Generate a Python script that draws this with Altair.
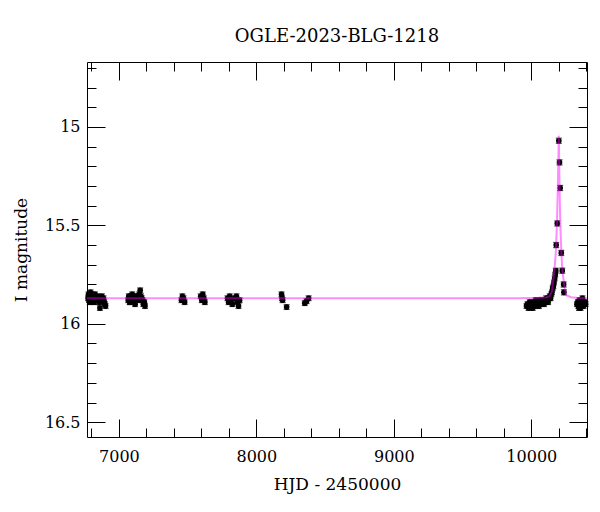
import altair as alt
import pandas as pd

# ---------------- data ----------------
t1 = [6776, 6779, 6782, 6785, 6788, 6791, 6794, 6797, 6800, 6803, 6806, 6810, 6815,
      6820, 6826, 6832, 6838, 6845, 6852, 6858, 6862, 6868, 6876, 6882, 6888, 6893,
      6898, 6903]
m1 = [15.87, 15.85, 15.88, 15.86, 15.89, 15.87, 15.84, 15.88, 15.86, 15.85, 15.88,
      15.86, 15.87, 15.89, 15.85, 15.88, 15.87, 15.86, 15.88, 15.89, 15.92, 15.87,
      15.86, 15.88, 15.87, 15.89, 15.90, 15.91]

t2 = [7068, 7072, 7075, 7079, 7082, 7086, 7090, 7097, 7105, 7112, 7118, 7125, 7132,
      7140, 7148, 7155, 7160, 7166, 7172, 7178, 7185, 7190]
m2 = [15.88, 15.86, 15.87, 15.89, 15.89, 15.86, 15.87, 15.85, 15.88, 15.86, 15.90,
      15.87, 15.86, 15.88, 15.85, 15.83, 15.86, 15.87, 15.88, 15.90, 15.89, 15.91]

t3 = [7455, 7462, 7470, 7478]
m3 = [15.88, 15.86, 15.87, 15.89]

t4 = [7595, 7603, 7610, 7618, 7625]
m4 = [15.86, 15.88, 15.85, 15.87, 15.89]

t5 = [7790, 7798, 7806, 7815, 7825, 7840, 7855, 7862, 7870, 7878]
m5 = [15.87, 15.89, 15.86, 15.88, 15.90, 15.87, 15.86, 15.89, 15.91, 15.88]

t6 = [8183, 8187, 8191, 8220]
m6 = [15.85, 15.87, 15.88, 15.915]

t7 = [8352, 8365, 8380]
m7 = [15.895, 15.885, 15.87]

t8 = [9965, 9972, 9980, 9988, 9995, 10002, 10010, 10018, 10025, 10032, 10040, 10048,
      10055, 10062, 10070, 10078, 10085, 10092, 10100, 10108, 10115, 10122, 10128, 10134,
      10140, 10145, 10150, 10155, 10160, 10165, 10170, 10174, 10178]
m8 = [15.91, 15.90, 15.92, 15.89, 15.91, 15.90, 15.92, 15.89, 15.91, 15.88, 15.90, 15.89,
      15.91, 15.88, 15.90, 15.89, 15.88, 15.90, 15.89, 15.87, 15.88, 15.89, 15.87, 15.86,
      15.87, 15.85, 15.84, 15.82, 15.81, 15.79, 15.77, 15.75, 15.73]

t9 = [10181, 10189, 10200, 10205, 10210, 10218, 10225, 10235, 10237]
m9 = [15.60, 15.49, 15.07, 15.18, 15.31, 15.64, 15.73, 15.80, 15.84]

t10 = [10332, 10338, 10342, 10347, 10350, 10355, 10358, 10365, 10372, 10380, 10388, 10395]
m10 = [15.90, 15.89, 15.91, 15.92, 15.88, 15.90, 15.92, 15.90, 15.87, 15.91, 15.89, 15.90]

base_err = 0.012
peak_err = [0.013, 0.013, 0.013, 0.013, 0.013, 0.013, 0.013, 0.013, 0.013]

model_t = [6768, 9900, 10050, 10110, 10133, 10150, 10169, 10178, 10186, 10193, 10200,
           10205, 10211, 10218, 10225, 10240, 10254, 10290, 10340, 10405]
model_m = [15.870, 15.870, 15.868, 15.865, 15.860, 15.835, 15.72, 15.64, 15.50, 15.30,
           15.045, 15.30, 15.50, 15.63, 15.72, 15.81, 15.855, 15.865, 15.869, 15.870]

x_major = [7000, 8000, 9000, 10000]
x_minor = [6800 + 200 * i for i in range(19)]
y_major = [15, 15.5, 16, 16.5]
y_minor = [round(14.7 + 0.1 * i, 1) for i in range(19)]

x_domain = [6768, 10405]
y_domain = [14.67, 16.575]

title_text = "OGLE-2023-BLG-1218"
x_title = "HJD - 2450000"
y_title = "I magnitude"

# ---------------- tables ----------------
hjd = t1 + t2 + t3 + t4 + t5 + t6 + t7 + t8 + t9 + t10
mag = m1 + m2 + m3 + m4 + m5 + m6 + m7 + m8 + m9 + m10
err = [base_err] * (len(hjd) - len(t10) - len(t9)) + peak_err + [base_err] * len(t10)
pts = pd.DataFrame({"hjd": hjd, "mag": mag, "err": err})
pts["lo"] = pts["mag"] - pts["err"]
pts["hi"] = pts["mag"] + pts["err"]
caps = pd.concat([
    pd.DataFrame({"hjd": pts["hjd"], "m": pts["lo"]}),
    pd.DataFrame({"hjd": pts["hjd"], "m": pts["hi"]}),
])
model = pd.DataFrame({"hjd": model_t, "mag": model_m})

FONT = "DejaVu Serif"
xs = alt.Scale(domain=x_domain, nice=False, zero=False)
ys = alt.Scale(domain=y_domain, reverse=True, nice=False, zero=False)


def tick_axis(orient, values, size):
    return alt.Axis(orient=orient, values=values, tickSize=size, offset=-size,
                    labels=False, domain=False, grid=False, title=None,
                    tickColor="black", tickWidth=1)


x_lab = alt.Axis(orient="bottom", values=x_major, ticks=False, domain=False, grid=False,
                 format="d", labelFont=FONT, labelFontSize=16, labelColor="black",
                 labelPadding=11, labelFlush=False, title=x_title, titleFont=FONT,
                 titleFontSize=17, titleFontWeight="normal", titleColor="black",
                 titlePadding=12)
y_lab = alt.Axis(orient="left", values=y_major, ticks=False, domain=False, grid=False,
                 format="~g", labelFont=FONT, labelFontSize=16, labelColor="black",
                 labelPadding=7, labelFlush=False, title=y_title, titleFont=FONT,
                 titleFontSize=17, titleFontWeight="normal", titleColor="black",
                 titlePadding=14)

bars = alt.Chart(pts).mark_rule(color="black", strokeWidth=1.2).encode(
    x=alt.X("hjd:Q", scale=xs, axis=x_lab),
    y=alt.Y("lo:Q", scale=ys, axis=y_lab),
    y2="hi:Q",
)
points = alt.Chart(pts).mark_circle(size=32, color="black", opacity=1).encode(
    x=alt.X("hjd:Q", scale=xs, axis=tick_axis("bottom", x_major, 18)),
    y=alt.Y("mag:Q", scale=ys, axis=tick_axis("left", y_major, 18)),
)
capmarks = alt.Chart(caps).mark_tick(orient="horizontal", size=6, thickness=1.2,
                                     color="black").encode(
    x=alt.X("hjd:Q", scale=xs, axis=tick_axis("bottom", x_minor, 9)),
    y=alt.Y("m:Q", scale=ys, axis=tick_axis("left", y_minor, 9)),
)
line = alt.Chart(model).mark_line(color="#ff00ff", strokeWidth=2, opacity=0.45).encode(
    x=alt.X("hjd:Q", scale=xs, axis=tick_axis("top", x_major, 18)),
    y=alt.Y("mag:Q", scale=ys, axis=tick_axis("right", y_major, 18)),
)
ghost = alt.Chart(model).mark_line(color="#ff00ff", strokeWidth=0, opacity=0).encode(
    x=alt.X("hjd:Q", scale=xs, axis=tick_axis("top", x_minor, 9)),
    y=alt.Y("mag:Q", scale=ys, axis=tick_axis("right", y_minor, 9)),
)

chart = alt.layer(bars, points, capmarks, line, ghost).resolve_axis(
    x="independent", y="independent"
).properties(
    width=500,
    height=375,
    title=alt.TitleParams(title_text, font=FONT, fontSize=18, fontWeight="normal",
                          color="black", anchor="middle", offset=16),
    autosize=alt.AutoSizeParams(type="none"),
    padding={"left": 79, "top": 54, "right": 5, "bottom": 67},
    background="white",
).configure_view(stroke="black", strokeWidth=1)

chart.save("out.html", embed_options={"renderer": "svg", "actions": False})
